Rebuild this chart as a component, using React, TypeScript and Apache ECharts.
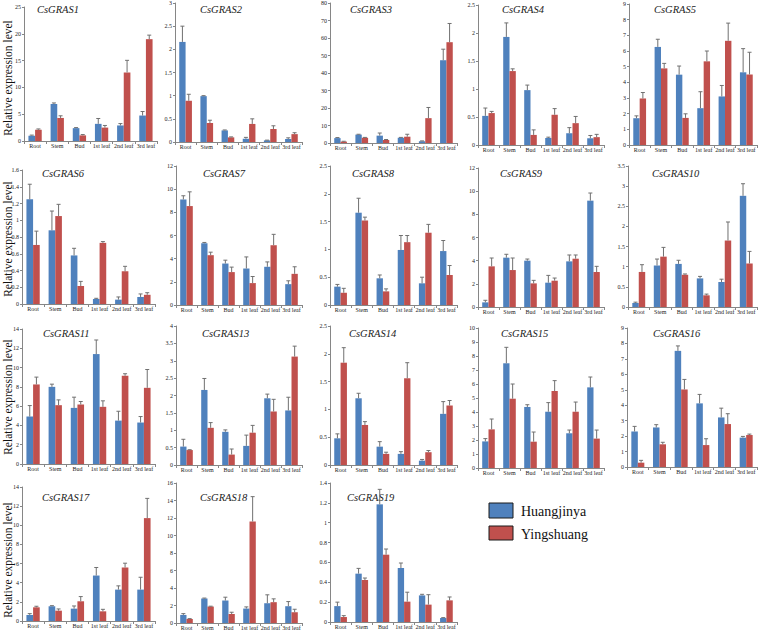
import React, { useEffect, useRef } from "react";
import * as echarts from "echarts";

const categories = ["Root", "Stem", "Bud", "1st leaf", "2nd leaf", "3rd leaf"];
const seriesNames = ["Huangjinya", "Yingshuang"];

const gras1H = [1.0, 6.9, 2.4, 3.2, 2.9, 4.75];
const gras1HSd = [0.1, 0.2, 0.1, 1.0, 0.35, 0.75];
const gras1Y = [2.1, 4.3, 1.05, 2.5, 12.8, 19.0];
const gras1YSd = [0.15, 0.4, 0.15, 0.4, 2.25, 0.75];

const gras2H = [2.16, 0.99, 0.25, 0.07, 0.035, 0.065];
const gras2HSd = [0.34, 0.01, 0.01, 0.03, 0.005, 0.025];
const gras2Y = [0.89, 0.41, 0.1, 0.39, 0.28, 0.17];
const gras2YSd = [0.14, 0.06, 0.01, 0.11, 0.07, 0.03];

const gras3H = [2.8, 4.8, 4.2, 3.0, 1.0, 47.3];
const gras3HSd = [0.3, 0.2, 1.5, 0.2, 0.2, 6.3];
const gras3Y = [0.8, 3.0, 1.7, 3.6, 14.2, 57.6];
const gras3YSd = [0.2, 0.2, 0.3, 1.4, 6.1, 10.7];

const gras4H = [0.52, 1.93, 0.98, 0.125, 0.21, 0.12];
const gras4HSd = [0.14, 0.25, 0.09, 0.015, 0.1, 0.05];
const gras4Y = [0.57, 1.32, 0.18, 0.54, 0.39, 0.14];
const gras4YSd = [0.03, 0.04, 0.09, 0.11, 0.12, 0.05];

const gras5H = [1.71, 6.26, 4.49, 2.35, 3.1, 4.64];
const gras5HSd = [0.15, 0.49, 0.55, 1.05, 0.7, 1.51];
const gras5Y = [2.97, 4.89, 1.73, 5.34, 6.65, 4.5];
const gras5YSd = [0.38, 0.32, 0.26, 0.66, 1.13, 1.42];

const gras6H = [1.25, 0.88, 0.58, 0.06, 0.052, 0.084];
const gras6HSd = [0.18, 0.23, 0.085, 0.008, 0.032, 0.036];
const gras6Y = [0.705, 1.05, 0.215, 0.73, 0.39, 0.11];
const gras6YSd = [0.165, 0.14, 0.055, 0.015, 0.06, 0.025];

const gras7H = [9.11, 5.33, 3.58, 3.15, 3.3, 1.8];
const gras7HSd = [0.32, 0.07, 0.29, 1.0, 0.42, 0.29];
const gras7Y = [8.54, 4.3, 2.84, 1.89, 5.16, 2.69];
const gras7YSd = [1.23, 0.26, 0.43, 0.57, 0.94, 0.61];

const gras8H = [0.33, 1.66, 0.48, 0.99, 0.39, 0.97];
const gras8HSd = [0.04, 0.26, 0.06, 0.26, 0.11, 0.19];
const gras8Y = [0.22, 1.52, 0.245, 1.13, 1.3, 0.54];
const gras8YSd = [0.08, 0.06, 0.045, 0.12, 0.15, 0.17];

const gras9H = [0.4, 4.26, 4.0, 2.1, 3.94, 9.18];
const gras9HSd = [0.18, 0.29, 0.14, 0.63, 0.55, 0.66];
const gras9Y = [3.51, 3.19, 2.04, 2.27, 4.17, 3.02];
const gras9YSd = [0.72, 1.04, 0.26, 0.23, 0.32, 0.49];

const gras10H = [0.1, 1.03, 1.07, 0.71, 0.62, 2.76];
const gras10HSd = [0.02, 0.16, 0.09, 0.05, 0.07, 0.3];
const gras10Y = [0.87, 1.25, 0.8, 0.29, 1.65, 1.08];
const gras10YSd = [0.18, 0.23, 0.02, 0.03, 0.46, 0.3];

const gras11H = [4.92, 8.0, 5.82, 11.4, 4.5, 4.3];
const gras11HSd = [1.14, 0.28, 1.11, 1.46, 0.97, 0.62];
const gras11Y = [8.25, 6.1, 6.17, 5.93, 9.15, 7.9];
const gras11YSd = [0.76, 0.55, 0.31, 0.62, 0.21, 1.9];

const gras13H = [0.53, 2.16, 0.955, 0.55, 1.92, 1.57];
const gras13HSd = [0.21, 0.33, 0.055, 0.31, 0.12, 0.38];
const gras13Y = [0.43, 1.07, 0.3, 0.93, 1.54, 3.12];
const gras13YSd = [0.01, 0.15, 0.16, 0.21, 0.35, 0.3];

const gras14H = [0.48, 1.2, 0.33, 0.2, 0.078, 0.92];
const gras14HSd = [0.08, 0.09, 0.09, 0.04, 0.022, 0.22];
const gras14Y = [1.84, 0.72, 0.2, 1.56, 0.23, 1.07];
const gras14YSd = [0.27, 0.06, 0.03, 0.28, 0.03, 0.09];

const gras15H = [1.9, 7.48, 4.36, 4.02, 2.48, 5.76];
const gras15HSd = [0.2, 1.14, 0.16, 0.65, 0.23, 0.74];
const gras15Y = [2.76, 4.95, 1.88, 5.5, 4.02, 2.1];
const gras15YSd = [0.74, 1.05, 0.69, 0.74, 0.69, 0.61];

const gras16H = [2.3, 2.56, 7.52, 4.12, 3.21, 1.9];
const gras16HSd = [0.33, 0.18, 0.32, 0.58, 0.6, 0.08];
const gras16Y = [0.28, 1.47, 5.02, 1.42, 2.78, 2.07];
const gras16YSd = [0.15, 0.13, 0.65, 0.41, 0.67, 0.06];

const gras17H = [0.63, 1.54, 1.29, 4.75, 3.28, 3.28];
const gras17HSd = [0.14, 0.06, 0.28, 0.84, 0.39, 1.29];
const gras17Y = [1.43, 1.08, 2.06, 1.01, 5.59, 10.75];
const gras17YSd = [0.11, 0.18, 0.49, 0.21, 0.45, 2.06];

const gras18H = [0.92, 2.8, 2.57, 1.65, 2.26, 1.92];
const gras18HSd = [0.15, 0.05, 0.38, 0.19, 0.96, 0.53];
const gras18Y = [0.46, 1.88, 1.03, 11.6, 2.38, 1.23];
const gras18YSd = [0.04, 0.04, 0.2, 2.84, 0.38, 0.34];

const gras19H = [0.16, 0.487, 1.185, 0.544, 0.268, 0.04];
const gras19HSd = [0.04, 0.053, 0.151, 0.05, 0.011, 0.004];
const gras19Y = [0.05, 0.423, 0.678, 0.205, 0.175, 0.218];
const gras19YSd = [0.014, 0.02, 0.057, 0.095, 0.1, 0.034];

const geneNames = [
  "CsGRAS1", "CsGRAS2", "CsGRAS3", "CsGRAS4", "CsGRAS5",
  "CsGRAS6", "CsGRAS7", "CsGRAS8", "CsGRAS9", "CsGRAS10",
  "CsGRAS11", "CsGRAS13", "CsGRAS14", "CsGRAS15", "CsGRAS16",
  "CsGRAS17", "CsGRAS18", "CsGRAS19",
];
const yMax = [25, 3, 80, 2.5, 9, 1.6, 12, 2.5, 12, 3.5, 14, 4, 2.5, 10, 9, 14, 16, 1.4];
const yStep = [5, 0.5, 10, 0.5, 1, 0.2, 2, 0.5, 2, 0.5, 2, 0.5, 0.5, 1, 1, 2, 2, 0.2];

const huangjinya = [gras1H, gras2H, gras3H, gras4H, gras5H, gras6H, gras7H, gras8H, gras9H, gras10H, gras11H, gras13H, gras14H, gras15H, gras16H, gras17H, gras18H, gras19H];
const huangjinyaSd = [gras1HSd, gras2HSd, gras3HSd, gras4HSd, gras5HSd, gras6HSd, gras7HSd, gras8HSd, gras9HSd, gras10HSd, gras11HSd, gras13HSd, gras14HSd, gras15HSd, gras16HSd, gras17HSd, gras18HSd, gras19HSd];
const yingshuang = [gras1Y, gras2Y, gras3Y, gras4Y, gras5Y, gras6Y, gras7Y, gras8Y, gras9Y, gras10Y, gras11Y, gras13Y, gras14Y, gras15Y, gras16Y, gras17Y, gras18Y, gras19Y];
const yingshuangSd = [gras1YSd, gras2YSd, gras3YSd, gras4YSd, gras5YSd, gras6YSd, gras7YSd, gras8YSd, gras9YSd, gras10YSd, gras11YSd, gras13YSd, gras14YSd, gras15YSd, gras16YSd, gras17YSd, gras18YSd, gras19YSd];

// layout: [left, right, top, bottom, titleX, titleY]
const layout = [
  [24, 157, 7, 141, 37, 9],
  [175, 302, 3, 142, 200, 9],
  [330, 457, 3, 143, 350, 9],
  [478, 604, 5, 145, 502, 9],
  [629, 757, 4, 145, 654, 9],
  [22, 155, 170, 304, 42, 173],
  [176, 302, 166, 305, 203, 173],
  [330, 457, 166, 305, 352, 173],
  [478, 604, 168, 307, 500, 173],
  [628, 757, 166, 307, 652, 173],
  [22, 155, 329, 464, 43, 333],
  [176, 302, 326, 465, 202, 333],
  [330, 457, 326, 465, 349, 333],
  [478, 604, 328, 468, 501, 333],
  [627, 757, 328, 467, 653, 333],
  [22, 155, 487, 621, 42, 497],
  [176, 302, 483, 623, 200, 497],
  [330, 457, 483, 622, 347, 497],
];
const yLabelCenters = [78, 239, 397, 560];

const SERIF = "'Liberation Serif', 'Times New Roman', serif";
const BLUE = "#4F81BD";
const RED = "#C0504D";
const AXIS = "#868686";
const ERR = "#707070";

function buildOption() {
  const grid: any[] = [];
  const xAxis: any[] = [];
  const yAxis: any[] = [];
  const series: any[] = [];
  const graphic: any[] = [];

  geneNames.forEach((name, i) => {
    const [l, r, t, b, tx, ty] = layout[i];
    grid.push({ left: l, top: t, width: r - l, height: b - t, containLabel: false });
    xAxis.push({
      type: "category",
      gridIndex: i,
      data: categories,
      axisLine: { lineStyle: { color: AXIS, width: 1 } },
      axisTick: { show: true, length: 3, lineStyle: { color: AXIS } },
      axisLabel: { interval: 0, fontSize: 6, fontFamily: SERIF, color: "#222", margin: 2 },
      splitLine: { show: false },
    });
    yAxis.push({
      type: "value",
      gridIndex: i,
      min: 0,
      max: yMax[i],
      interval: yStep[i],
      axisLine: { show: true, lineStyle: { color: AXIS, width: 1 } },
      axisTick: { show: true, length: 2, lineStyle: { color: AXIS } },
      axisLabel: { fontSize: 6, fontFamily: SERIF, color: "#222", margin: 3 },
      splitLine: { show: false },
    });
    series.push({
      type: "bar",
      name: seriesNames[0],
      xAxisIndex: i,
      yAxisIndex: i,
      data: huangjinya[i],
      barWidth: "30%",
      barGap: "0%",
      itemStyle: { color: BLUE },
    });
    series.push({
      type: "bar",
      name: seriesNames[1],
      xAxisIndex: i,
      yAxisIndex: i,
      data: yingshuang[i],
      barWidth: "30%",
      barGap: "0%",
      itemStyle: { color: RED },
    });
    const errData: any[] = [];
    categories.forEach((_, c) => {
      errData.push([c, huangjinya[i][c], huangjinya[i][c] + huangjinyaSd[i][c], 0]);
      errData.push([c, yingshuang[i][c], yingshuang[i][c] + yingshuangSd[i][c], 1]);
    });
    series.push({
      type: "custom",
      xAxisIndex: i,
      yAxisIndex: i,
      z: 5,
      data: errData,
      encode: { x: 0, y: [1, 2] },
      renderItem: (params: any, api: any) => {
        const cat = api.value(0);
        const p0 = api.coord([cat, api.value(1)]);
        const p1 = api.coord([cat, api.value(2)]);
        const band = api.size([1, 0])[0];
        const x = p0[0] + (api.value(3) === 0 ? -0.15 : 0.15) * band;
        const cap = 2;
        return {
          type: "group",
          children: [
            { type: "line", shape: { x1: x, y1: p0[1], x2: x, y2: p1[1] }, style: { stroke: ERR, lineWidth: 1 } },
            { type: "line", shape: { x1: x - cap, y1: p1[1], x2: x + cap, y2: p1[1] }, style: { stroke: ERR, lineWidth: 1 } },
          ],
        };
      },
    });
    graphic.push({
      type: "text",
      x: tx,
      y: ty,
      style: {
        text: name,
        fontSize: 10.5,
        fontStyle: "italic",
        fontWeight: "normal",
        fontFamily: SERIF,
        fill: "#222",
        verticalAlign: "middle",
        align: "left",
      },
    });
  });

  yLabelCenters.forEach((cy) => {
    graphic.push({
      type: "text",
      x: 8,
      y: cy,
      rotation: Math.PI / 2,
      style: {
        text: "Relative expression level",
        fontSize: 11.5,
        fontFamily: SERIF,
        fill: "#111",
        align: "center",
        verticalAlign: "middle",
      },
    });
  });

  // legend
  graphic.push({ type: "rect", shape: { x: 489, y: 503, width: 24, height: 15 }, style: { fill: BLUE, stroke: "#1a1a1a", lineWidth: 1 } });
  graphic.push({ type: "rect", shape: { x: 489, y: 526, width: 24, height: 14 }, style: { fill: RED, stroke: "#1a1a1a", lineWidth: 1 } });
  graphic.push({ type: "text", x: 521, y: 511, style: { text: seriesNames[0], fontSize: 14, fontFamily: SERIF, fill: "#111", verticalAlign: "middle" } });
  graphic.push({ type: "text", x: 521, y: 534, style: { text: seriesNames[1], fontSize: 14, fontFamily: SERIF, fill: "#111", verticalAlign: "middle" } });

  return {
    animation: false,
    backgroundColor: "#ffffff",
    grid,
    xAxis,
    yAxis,
    series,
    graphic,
  };
}

export default function App() {
  const ref = useRef<HTMLDivElement>(null);
  useEffect(() => {
    if (!ref.current) return;
    const chart = echarts.init(ref.current, undefined, { renderer: "svg" });
    chart.setOption(buildOption() as any);
    return () => chart.dispose();
  }, []);
  return (
    <div
      ref={ref}
      style={{ position: "absolute", left: 0, top: 0, width: 760, height: 632 }}
    />
  );
}
